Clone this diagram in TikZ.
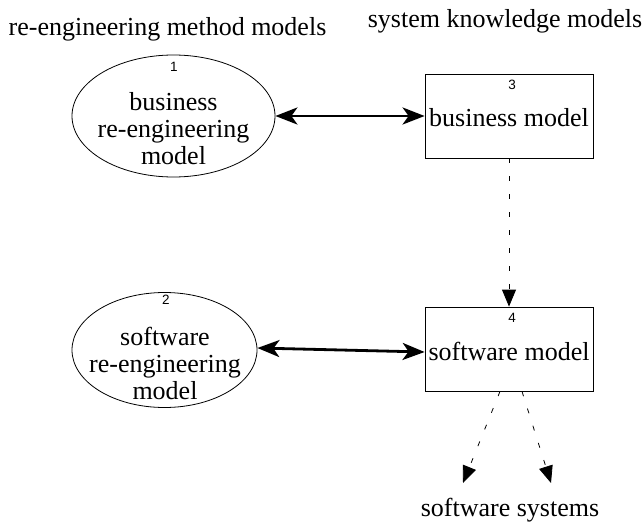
\documentclass[tikz,border=0pt]{standalone}
\usepackage{fontspec}
\setmainfont{Liberation Serif}
\newfontfamily\numfont{Liberation Sans}
\usetikzlibrary{arrows.meta,shapes.geometric}

\tikzset{
  txt/.style={font=\fontsize{26}{27}\selectfont, inner sep=0pt, align=center},
  num/.style={font=\numfont\fontsize{13.5}{14}\selectfont, inner sep=0pt},
  methodnode/.style={draw, ellipse, line width=0.8pt, inner sep=0pt},
  knownode/.style={draw, rectangle, line width=0.8pt, inner sep=0pt,
    minimum width=168pt, minimum height=84pt},
  link/.style={line width=2.8pt, {Stealth[length=22pt,width=17pt,inset=6pt]}-{Stealth[length=22pt,width=17pt,inset=6pt]}},
  derive/.style={line width=0.8pt, dash pattern=on 5pt off 13pt,
    -{Triangle[length=17pt,width=14pt]}}
}

\begin{document}
\begin{tikzpicture}[x=1pt,y=-1pt]
  \useasboundingbox (0,0) rectangle (642,522);

  % column headings
  \node[txt] (hmeth) at (167.5,29) {re-engineering method models};
  \node[txt] (hknow) at (505,21) {system knowledge models};

  % re-engineering method models
  \node[methodnode, minimum width=203pt, minimum height=122pt] (m1) at (173.5,116) {};
  \node[num] (n1) at (174,67) {1};
  \node[txt] (t1) at (173.5,129) {business\\re-engineering\\model};

  \node[methodnode, minimum width=185pt, minimum height=115pt] (m2) at (164.5,350) {};
  \node[num] (n2) at (166,300) {2};
  \node[txt] (t2) at (165,363) {software\\re-engineering\\model};

  % system knowledge models
  \node[knownode] (k3) at (509,116) {};
  \node[num] (n3) at (512,85) {3};
  \node[txt] (t3) at (509,118) {business model};

  \node[knownode] (k4) at (509,349) {};
  \node[num] (n4) at (512,318) {4};
  \node[txt] (t4) at (509,351) {software model};

  % software systems
  \node[txt] (sys) at (510,510) {software systems};
  \coordinate (sysL) at (463,483);
  \coordinate (sysR) at (551,483);

  % connectors
  \draw[link] (m1.east) -- (k3.west);
  \draw[link] ([yshift=2pt]m2.east) -- ([yshift=-3pt]k4.west);
  \draw[derive] (k3.south) -- (k4.north);
  \draw[derive] ([xshift=-9pt]k4.south) -- (sysL);
  \draw[derive] ([xshift=13pt]k4.south) -- (sysR);
\end{tikzpicture}
\end{document}
